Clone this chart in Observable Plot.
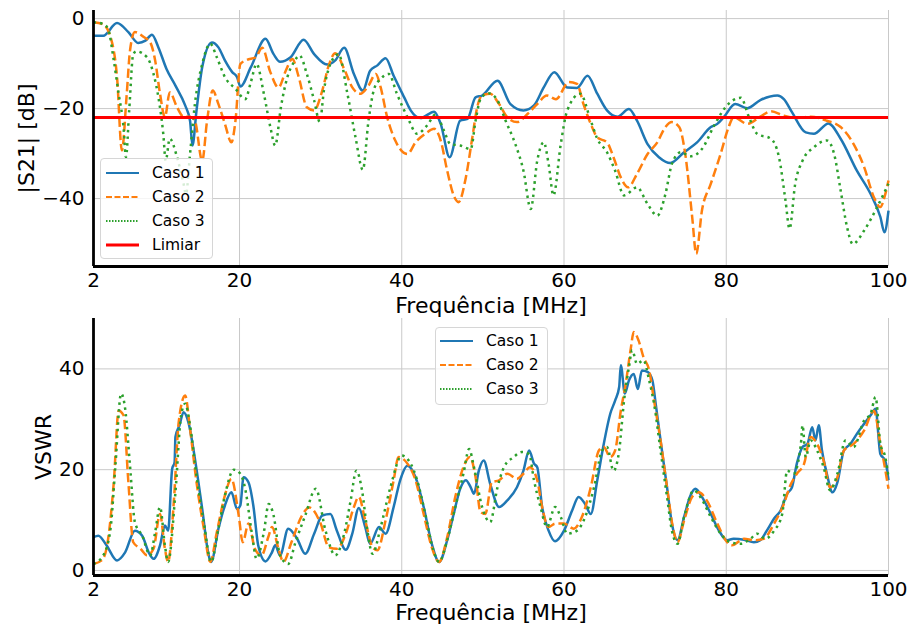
<!DOCTYPE html>
<html>
<head>
<meta charset="utf-8">
<script src="https://cdn.jsdelivr.net/npm/d3@7"></script>
<script src="https://cdn.jsdelivr.net/npm/@observablehq/plot@0.6"></script>
<style>
  body { margin: 0; background: #fff; font-family: "DejaVu Sans", sans-serif; }
  #wrap { position: relative; width: 913px; height: 633px; overflow: hidden; background: #fff; }
  #top, #bot { position: absolute; left: 0; }
  #top { top: 0; }
  #bot { top: 300px; }
  .legend { position: absolute; box-sizing: border-box; background: rgba(255,255,255,0.8);
            border: 1px solid #d6d6d6; border-radius: 4px; font-size: 15.5px; color: #000; }
  .legend .row { display: flex; align-items: center; height: 24px; }
  .legend svg { display: block; flex: none; }
  .legend span { white-space: pre; }
</style>
</head>
<body>
<div id="wrap">
  <div id="top"></div>
  <div id="bot"></div>
</div>
<script>
// ---------- labels / ticks ----------
const xTicks = [2, 20, 40, 60, 80, 100];
const s21Ticks = [0, -20, -40];
const vswrTicks = [0, 20, 40];
const threshold = [-22];
const seriesNames = ["Caso 1", "Caso 2", "Caso 3"];
const thresholdName = "Limiar";
const xLabel = "Frequência [MHz]";
const s21Label = "|S21| [dB]";
const vswrLabel = "VSWR";

// ---------- |S21| [dB] (frequency MHz, value) ----------
const s21Caso1 = [[2,-3.8],[3.2,-3.8],[4.9,-1.0],[6.3,-3.0],[7.5,-5.4],[8.4,-4.9],[9.2,-3.6],[10.0,-6.4],[11.0,-11.2],[12.1,-14.9],[13.3,-19.3],[13.9,-22.7],[14.2,-28.2],[14.7,-20.4],[15.4,-10.8],[16.6,-5.3],[17.4,-6.4],[18.2,-9.3],[19.1,-11.9],[19.7,-13.0],[20.1,-15.1],[21.4,-10.8],[23.2,-4.5],[24.2,-7.9],[25.0,-9.6],[26.3,-8.6],[27.9,-4.7],[29.2,-7.9],[30.8,-10.2],[31.8,-9.3],[32.9,-6.5],[34.1,-12.3],[35.2,-16.0],[36.1,-11.6],[37.0,-10.4],[38.0,-8.8],[39.0,-12.7],[40.3,-17.5],[41.1,-20.4],[42.3,-22.1],[44.0,-20.7],[44.8,-23.4],[45.9,-30.8],[47.2,-22.7],[48.1,-22.3],[49.1,-17.5],[49.9,-17.1],[51.8,-13.8],[53.4,-19.0],[55.0,-20.4],[56.3,-19.3],[57.5,-15.3],[58.8,-11.9],[60.4,-15.3],[61.6,-15.4],[62.9,-12.7],[64.1,-16.7],[65.3,-20.4],[66.6,-21.8],[68.0,-20.1],[69.0,-22.7],[70.3,-27.9],[71.7,-30.8],[73.1,-32.1],[74.8,-29.7],[76.4,-27.5],[78.1,-24.1],[78.9,-23.4],[79.7,-21.9],[81.1,-19.0],[82.6,-19.9],[84.2,-18.1],[86.3,-17.1],[87.1,-17.9],[88.1,-20.8],[89.8,-25.3],[90.8,-25.6],[92.6,-23.3],[94.1,-26.7],[96.1,-33.8],[97.8,-39.0],[99.0,-44.1],[99.5,-47.5],[100,-42.7]];
const s21Caso2 = [[2,-0.8],[3.2,-1.3],[4.1,-4.1],[4.9,-13.0],[5.5,-29.3],[6.1,-16.7],[6.5,-7.1],[7.1,-3.0],[8.2,-4.1],[9.0,-5.3],[9.6,-9.3],[10.2,-16.7],[10.8,-21.9],[11.4,-16.4],[12.3,-19.7],[13.1,-21.8],[13.9,-21.8],[14.5,-22.7],[15.4,-31.6],[16.0,-22.7],[16.7,-16.0],[17.4,-19.0],[18.2,-23.4],[19.0,-27.5],[19.5,-22.7],[20.1,-10.1],[20.9,-9.2],[22.0,-8.6],[22.8,-6.5],[23.8,-11.9],[24.8,-15.3],[25.7,-11.6],[26.5,-9.0],[27.3,-13.0],[28.3,-19.7],[29.2,-20.4],[30.2,-16.0],[31.0,-10.4],[31.8,-7.7],[32.9,-11.2],[33.9,-15.3],[34.9,-16.7],[35.9,-14.9],[36.8,-12.3],[37.4,-15.3],[38.2,-21.9],[39.2,-27.1],[40.7,-30.1],[41.7,-27.5],[42.9,-25.6],[44.0,-24.5],[44.8,-27.1],[45.6,-33.8],[46.4,-39.3],[47.0,-40.8],[47.9,-35.3],[48.7,-26.4],[49.3,-19.7],[49.9,-17.1],[50.9,-16.7],[52.0,-19.0],[53.0,-21.9],[54.2,-23.0],[55.5,-21.2],[56.7,-19.0],[57.9,-17.1],[59.0,-17.9],[60.6,-14.1],[61.6,-14.5],[62.4,-19.0],[63.3,-23.4],[64.1,-26.4],[65.3,-27.5],[66.1,-30.8],[67.0,-35.3],[67.9,-37.5],[69.0,-34.5],[70.3,-30.1],[71.5,-27.5],[72.5,-24.1],[73.3,-23.0],[74.2,-24.1],[75.0,-30.8],[75.8,-44.1],[76.3,-52.3],[77.0,-42.7],[78.1,-36.7],[79.3,-30.1],[80.3,-24.1],[80.9,-21.9],[82.6,-23.4],[84.2,-21.8],[85.5,-20.6],[87.1,-21.6],[88.7,-22.1],[90.4,-21.8],[92.4,-22.7],[94.1,-24.1],[95.7,-27.9],[97.0,-33.0],[98.2,-39.7],[99.0,-41.9],[99.5,-39.7],[100,-36.0]];
const s21Caso3 = [[2,-0.8],[3.2,-1.2],[3.8,-2.3],[4.5,-9.3],[5.1,-16.7],[5.7,-24.1],[6.0,-30.8],[6.4,-20.4],[6.9,-7.9],[7.3,-7.3],[8.6,-8.6],[9.4,-12.3],[10.0,-17.5],[10.6,-25.6],[10.9,-31.6],[11.4,-26.7],[12.3,-30.8],[13.1,-36.7],[13.4,-39.0],[13.9,-30.1],[14.5,-19.0],[15.4,-10.1],[16.4,-5.6],[17.2,-8.6],[18.2,-13.0],[19.5,-15.6],[20.7,-17.9],[21.4,-14.1],[22.1,-10.1],[23.0,-16.7],[23.8,-24.1],[24.4,-28.2],[25.1,-19.7],[25.9,-13.0],[26.7,-9.7],[27.4,-8.2],[28.3,-12.3],[29.2,-18.2],[29.9,-23.0],[30.4,-16.0],[31.2,-10.1],[32.2,-7.9],[33.3,-16.7],[34.3,-26.4],[35.2,-33.6],[35.9,-22.7],[36.6,-15.6],[37.4,-13.4],[38.4,-12.3],[39.4,-16.7],[40.7,-21.9],[41.9,-25.6],[43.1,-23.8],[44.2,-21.3],[45.2,-24.9],[46.0,-27.9],[47.2,-28.2],[48.5,-29.0],[49.1,-22.7],[49.7,-17.9],[50.7,-16.6],[51.8,-18.2],[52.8,-22.7],[54.0,-27.9],[55.0,-33.8],[55.9,-42.3],[56.7,-31.6],[57.5,-27.5],[58.1,-32.3],[58.7,-39.3],[59.6,-27.9],[60.4,-20.4],[62.0,-16.7],[63.3,-22.7],[64.1,-26.7],[65.3,-29.7],[66.3,-33.8],[67.4,-39.3],[69.0,-37.5],[70.3,-41.2],[71.5,-43.8],[72.5,-39.0],[73.3,-32.3],[74.4,-29.7],[75.6,-30.6],[77.0,-29.0],[78.5,-23.8],[79.9,-19.7],[81.8,-17.6],[82.8,-21.9],[83.8,-25.6],[85.5,-26.7],[86.5,-30.8],[87.3,-40.4],[87.8,-46.7],[88.5,-36.7],[89.4,-31.6],[90.8,-28.6],[92.4,-27.1],[93.3,-30.1],[94.1,-38.2],[94.9,-46.4],[95.6,-50.1],[97.0,-47.1],[98.6,-41.9],[100,-36.7]];

// ---------- VSWR (frequency MHz, value) ----------
const vswrCaso1 = [[2,6.6],[2.6,6.9],[3.6,5.0],[4.9,2.0],[5.9,3.6],[7.1,7.9],[8.0,6.9],[8.8,3.6],[9.4,2.3],[10.2,5.0],[10.8,8.9],[11.2,7.9],[11.7,20.2],[12.0,21.5],[12.1,26.5],[12.6,28.8],[13.1,31.4],[13.7,29.4],[14.5,22.2],[15.4,12.2],[16.2,3.0],[16.5,1.7],[17.4,8.3],[18.2,12.9],[19.0,15.5],[19.7,12.2],[20.1,12.9],[20.5,18.5],[21.1,17.5],[21.7,12.9],[22.3,5.0],[23.2,1.8],[24.0,3.6],[24.4,5.0],[25.0,3.0],[26.0,8.3],[27.1,6.3],[28.1,3.3],[29.2,7.3],[30.2,10.9],[31.2,11.2],[32.0,7.9],[33.1,4.1],[33.9,7.3],[34.7,12.4],[35.5,8.6],[36.1,5.3],[37.2,8.6],[38.0,7.3],[39.0,12.6],[39.8,17.9],[40.7,20.8],[41.7,18.5],[42.7,12.6],[43.7,5.3],[44.6,1.7],[45.6,6.0],[46.4,11.2],[47.2,16.2],[47.9,17.9],[48.5,16.5],[48.9,15.2],[49.5,19.8],[50.1,21.8],[50.9,17.2],[52.0,12.6],[53.0,13.9],[54.2,16.5],[55.0,19.8],[55.7,23.8],[56.3,21.2],[56.7,20.5],[57.3,12.6],[58.1,7.9],[58.9,5.8],[60.0,7.9],[61.0,11.9],[61.8,14.6],[62.6,13.2],[63.3,11.2],[64.1,17.9],[64.9,25.1],[65.7,31.1],[66.3,33.7],[66.8,36.4],[67.0,40.7],[67.5,35.1],[68.0,37.7],[68.6,39.0],[69.1,36.0],[69.6,39.7],[70.3,39.4],[70.9,37.7],[71.3,33.1],[71.9,25.8],[72.7,16.5],[73.3,9.3],[74.0,6.0],[74.8,10.6],[75.6,14.9],[76.2,16.2],[77.0,14.6],[78.1,11.2],[79.1,7.9],[80.1,6.0],[80.9,6.3],[82.2,6.1],[83.4,5.6],[84.2,6.0],[85.0,7.9],[85.9,10.3],[86.7,11.9],[87.5,15.2],[88.1,16.5],[88.7,21.2],[89.4,24.5],[90.0,25.1],[90.6,28.4],[91.0,25.8],[91.4,28.8],[91.8,23.8],[92.4,19.2],[93.1,15.5],[93.7,17.5],[94.5,23.8],[95.3,25.1],[96.1,27.1],[97.0,29.1],[97.8,30.8],[98.4,32.1],[99.0,23.1],[99.6,21.8],[100,17.9]];
const vswrCaso2 = [[2,1.3],[3.0,2.0],[3.6,4.3],[4.5,17.5],[5.1,31.7],[5.7,30.8],[6.3,17.5],[6.9,5.6],[7.8,4.3],[8.6,3.0],[9.4,4.3],[10.2,11.2],[10.8,4.3],[11.2,1.7],[11.9,13.6],[12.5,29.4],[13.3,34.7],[13.9,28.1],[14.7,17.5],[15.6,8.3],[16.4,1.7],[17.2,7.6],[18.2,14.9],[19.0,18.2],[19.9,10.9],[20.4,5.6],[21.1,9.3],[21.9,4.3],[22.7,3.0],[23.6,6.9],[24.0,8.6],[24.8,4.3],[25.4,1.7],[26.4,5.6],[27.7,10.9],[28.6,12.5],[30.0,9.3],[31.0,4.6],[32.0,4.3],[33.1,7.3],[34.1,12.6],[34.7,14.6],[35.5,9.9],[36.4,4.6],[37.0,4.0],[38.0,9.9],[39.0,17.9],[39.6,22.5],[40.7,21.2],[41.7,17.9],[42.7,11.2],[43.7,4.6],[44.6,1.7],[45.6,6.6],[46.6,14.6],[47.6,20.5],[48.4,22.5],[49.1,18.5],[49.7,11.6],[50.3,11.2],[51.1,17.5],[52.0,17.9],[53.0,19.2],[54.2,18.2],[55.0,19.2],[55.8,20.5],[56.7,17.9],[57.3,12.6],[58.1,8.6],[58.9,9.3],[60.0,9.3],[61.2,8.3],[62.2,10.6],[63.3,16.5],[64.3,23.8],[64.9,24.5],[65.7,22.5],[66.3,23.8],[67.0,31.7],[67.6,37.0],[68.2,43.7],[68.6,47.3],[69.2,45.6],[69.8,42.3],[70.5,39.7],[71.1,33.7],[71.9,25.8],[72.7,16.5],[73.5,7.9],[74.0,5.6],[74.8,9.9],[75.8,14.6],[76.6,15.5],[77.6,13.9],[78.9,9.3],[80.1,5.6],[80.7,5.0],[82.2,6.3],[83.4,6.0],[84.6,6.3],[85.9,9.3],[87.1,13.2],[87.9,16.9],[88.7,19.2],[89.6,21.2],[90.4,26.5],[91.2,25.1],[92.0,21.8],[92.8,16.5],[93.7,18.5],[94.5,23.8],[95.7,25.1],[97.0,27.8],[98.2,31.7],[99.0,25.1],[99.4,21.8],[100,16.2]];
const vswrCaso3 = [[2,1.3],[3.2,3.0],[4.1,8.3],[4.7,20.8],[5.4,35.1],[5.9,32.1],[6.5,20.8],[7.1,9.6],[8.0,6.9],[9.0,3.0],[9.6,7.6],[10.2,12.6],[10.8,5.0],[11.2,1.7],[12.1,15.5],[12.8,30.8],[13.3,33.1],[13.9,28.8],[14.7,18.8],[15.6,9.6],[16.5,1.7],[17.4,8.3],[18.2,14.9],[19.3,20.0],[20.1,19.2],[20.7,16.2],[21.5,7.6],[22.1,2.3],[23.0,7.6],[23.6,13.2],[24.2,10.9],[25.0,3.0],[26.0,1.3],[26.9,5.6],[28.1,10.9],[29.4,16.2],[30.6,7.9],[31.8,3.0],[32.9,7.3],[33.7,13.9],[34.4,19.8],[35.1,15.9],[35.7,8.6],[36.4,3.3],[37.4,8.6],[38.6,16.5],[40.0,22.8],[41.1,21.2],[41.9,17.9],[42.9,11.2],[43.9,4.0],[44.6,1.7],[45.6,6.0],[46.6,12.6],[47.6,19.2],[48.3,24.1],[48.9,20.5],[49.9,12.6],[50.9,9.6],[51.8,16.5],[52.6,20.5],[53.8,22.5],[54.8,23.5],[55.7,23.1],[56.3,17.9],[57.1,12.6],[57.9,8.6],[58.9,12.6],[59.6,10.6],[60.4,7.3],[61.6,7.9],[62.6,10.6],[63.7,16.5],[64.7,23.8],[65.3,24.5],[66.1,19.8],[66.8,23.8],[67.4,33.7],[68.0,40.3],[68.4,43.7],[69.0,41.0],[69.8,41.7],[70.5,37.7],[71.1,33.1],[71.9,23.8],[72.7,14.6],[73.3,7.9],[74.0,5.3],[74.8,10.6],[76.0,15.9],[76.8,14.6],[78.1,10.6],[79.3,7.3],[80.5,5.6],[81.8,5.3],[83.0,6.3],[83.8,7.3],[84.8,6.3],[85.9,7.9],[86.9,11.2],[87.5,19.8],[88.3,19.2],[89.2,25.1],[89.4,28.8],[89.8,22.5],[90.4,25.8],[91.2,23.8],[92.0,20.5],[92.8,15.9],[93.7,19.2],[94.7,25.8],[95.7,24.5],[97.0,29.8],[97.8,31.1],[98.4,34.4],[99.0,25.1],[99.6,22.5],[100,18.5]];

// ---------- styling (not data) ----------
const xDomain = [2, 100];
const s21Domain = [-55.1, 1.8];
const vswrDomain = [-1, 50];
const seriesStyle = [
  {stroke: "#1f77b4", dash: null},
  {stroke: "#ff7f0e", dash: "9.25,4"},
  {stroke: "#2ca02c", dash: "2.5,4.1"}
];
const gridColor = "#c9c9c9";
const fmt = d => d < 0 ? "\u2212" + Math.abs(d) : String(d);
const rows = pairs => pairs.map(([f, v]) => ({f, v}));

function lineMarks(seriesList) {
  return seriesList.map((s, i) => Plot.line(rows(s), {
    x: "f", y: "v", stroke: seriesStyle[i].stroke, strokeWidth: 2.5,
    strokeDasharray: seriesStyle[i].dash || undefined,
    strokeLinecap: "butt", strokeLinejoin: "round", curve: "monotone-x"
  }));
}

function makePlot({height, marginTop, marginBottom, yDomain, yTicks, series, extra, yLabel, yLabelDx, xLabelDy}) {
  return Plot.plot({
    width: 913, height,
    marginLeft: 93, marginRight: 25, marginTop, marginBottom,
    style: {fontFamily: "DejaVu Sans", fontSize: "20px", background: "transparent", overflow: "visible", color: "#000"},
    x: {domain: xDomain, ticks: xTicks, tickSize: 0, tickPadding: 6, label: null, tickFormat: fmt},
    y: {domain: yDomain, ticks: yTicks, tickSize: 0, tickPadding: 9, label: null, tickFormat: fmt},
    marks: [
      Plot.ruleX(xTicks, {stroke: gridColor, strokeWidth: 1}),
      Plot.ruleY(yTicks, {stroke: gridColor, strokeWidth: 1}),
      ...lineMarks(series),
      ...extra,
      Plot.ruleX([xDomain[0]], {stroke: "#000", strokeWidth: 2.8}),
      Plot.ruleY([yDomain[0]], {stroke: "#000", strokeWidth: 2.8}),
      Plot.text([xLabel], {frameAnchor: "bottom", dy: xLabelDy, fontSize: 22, text: d => d, fill: "#000",
        textAnchor: "middle", lineAnchor: "middle"}),
      Plot.text([yLabel], {frameAnchor: "left", dx: yLabelDx, rotate: -90, fontSize: 22, text: d => d, fill: "#000",
        textAnchor: "middle", lineAnchor: "middle"})
    ]
  });
}

const topPlot = makePlot({
  height: 312, marginTop: 10, marginBottom: 46,
  yDomain: s21Domain, yTicks: s21Ticks,
  series: [s21Caso1, s21Caso2, s21Caso3],
  extra: [Plot.ruleY(threshold, {stroke: "#ff0000", strokeWidth: 3})],
  yLabel: s21Label, yLabelDx: -67, xLabelDy: 39
});
document.getElementById("top").appendChild(topPlot);

const botPlot = makePlot({
  height: 333, marginTop: 18, marginBottom: 58,
  yDomain: vswrDomain, yTicks: vswrTicks,
  series: [vswrCaso1, vswrCaso2, vswrCaso3],
  extra: [],
  yLabel: vswrLabel, yLabelDx: -50, xLabelDy: 37
});
document.getElementById("bot").appendChild(botPlot);

// ---------- legends (HTML) ----------
function legend(entries, box) {
  const div = document.createElement("div");
  div.className = "legend";
  Object.assign(div.style, {left: box.left + "px", top: box.top + "px", width: box.width + "px",
    height: box.height + "px", paddingTop: box.pad + "px", paddingLeft: box.padLeft + "px"});
  for (const e of entries) {
    const row = document.createElement("div");
    row.className = "row";
    const svg = d3.create("svg").attr("width", 33).attr("height", 24);
    svg.append("line").attr("x1", 0).attr("x2", 33).attr("y1", 12).attr("y2", 12)
      .attr("stroke", e.stroke).attr("stroke-width", e.width)
      .attr("stroke-dasharray", e.dash || null);
    row.appendChild(svg.node());
    const sp = document.createElement("span");
    sp.textContent = e.name;
    sp.style.marginLeft = "13px";
    row.appendChild(sp);
    div.appendChild(row);
  }
  document.getElementById("wrap").appendChild(div);
}
const caseEntries = seriesNames.map((name, i) => ({
  name, stroke: seriesStyle[i].stroke, width: 2,
  dash: i === 1 ? "6,2.5" : i === 2 ? "1.5,1.5" : null
}));
legend([...caseEntries, {name: thresholdName, stroke: "#ff0000", width: 3, dash: null}],
  {left: 100, top: 158, width: 113, height: 101, pad: 2, padLeft: 5});
legend(caseEntries, {left: 435, top: 327, width: 113, height: 78, pad: 1, padLeft: 4});
</script>
</body>
</html>
